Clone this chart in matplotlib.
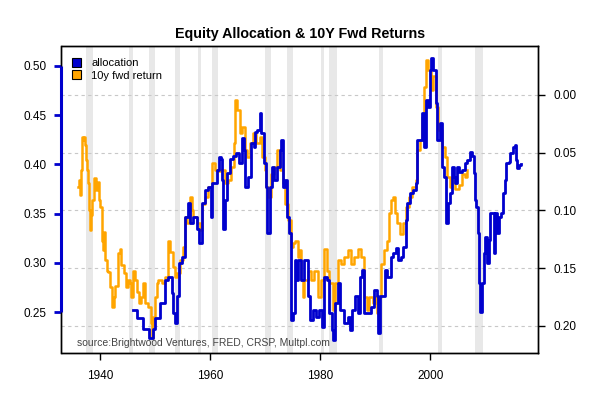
import matplotlib
matplotlib.use('Agg')
import matplotlib.pyplot as plt
from matplotlib.patches import Patch

plt.rcParams['font.family'] = ['Liberation Sans', 'DejaVu Sans']

# equity allocation (left axis)
alloc_years = [1945.95, 1946.5, 1946.65, 1947.2, 1947.75, 1948.65, 1948.85, 1949.4, 1949.6, 1949.95,
               1950.85, 1951.4, 1951.8, 1952.3, 1953.0, 1953.2, 1953.6, 1953.95, 1954.3, 1954.85,
               1955.4, 1955.95, 1956.3, 1956.85, 1957.6, 1957.95, 1958.5, 1959.0, 1959.6, 1960.15,
               1960.3, 1960.7, 1961.2, 1961.6, 1961.95, 1962.1, 1962.3, 1962.7, 1963.05, 1963.6,
               1964.1, 1964.7, 1965.2, 1965.8, 1966.1, 1966.3, 1966.85, 1967.4, 1967.95, 1968.1,
               1968.5, 1969.0, 1969.2, 1969.75, 1970.1, 1970.3, 1970.85, 1971.2, 1971.6, 1972.1,
               1972.7, 1972.85, 1973.2, 1973.6, 1973.95, 1974.3, 1974.7, 1975.0, 1975.4, 1975.6,
               1975.95, 1976.5, 1977.0, 1977.75, 1978.1, 1978.65, 1979.2, 1979.8, 1980.3, 1980.7,
               1981.2, 1981.6, 1982.1, 1982.3, 1982.7, 1983.2, 1983.6, 1984.3, 1985.0, 1985.4,
               1985.75, 1986.3, 1986.85, 1987.2, 1987.6, 1987.95, 1988.7, 1989.25, 1989.8, 1990.3,
               1990.5, 1990.9, 1991.4, 1991.8, 1992.1, 1992.85, 1993.2, 1993.75, 1994.1, 1994.7,
               1995.0, 1995.6, 1995.8, 1996.3, 1996.85, 1997.4, 1997.55, 1998.1, 1998.5, 1998.85,
               1999.2, 1999.6, 1999.95, 2000.1, 2000.5, 2001.0, 2001.2, 2001.75, 2002.1, 2002.45,
               2002.85, 2003.2, 2003.6, 2003.95, 2004.3, 2004.5, 2004.85, 2005.2, 2005.75, 2006.3,
               2006.7, 2007.2, 2007.6, 2007.95, 2008.1, 2008.3, 2008.65, 2008.85, 2009.0, 2009.4,
               2009.75, 2009.95, 2010.3, 2010.65, 2010.85, 2011.2, 2011.6, 2011.75, 2012.1, 2012.5,
               2012.85, 2013.2, 2013.6, 2013.75, 2014.3, 2014.5, 2015.05, 2015.4, 2015.6, 2015.8,
               2016.15, 2016.5]
alloc = [0.252, 0.252, 0.244, 0.244, 0.233, 0.233, 0.224, 0.224, 0.233, 0.244,
         0.259, 0.259, 0.283, 0.286, 0.270, 0.249, 0.239, 0.266, 0.300, 0.306,
         0.347, 0.361, 0.341, 0.347, 0.334, 0.320, 0.361, 0.374, 0.377, 0.347,
         0.381, 0.381, 0.394, 0.407, 0.405, 0.384, 0.334, 0.364, 0.391, 0.405,
         0.408, 0.412, 0.401, 0.427, 0.415, 0.377, 0.387, 0.422, 0.418, 0.433,
         0.435, 0.452, 0.432, 0.401, 0.377, 0.330, 0.377, 0.397, 0.384, 0.397,
         0.415, 0.425, 0.377, 0.384, 0.347, 0.330, 0.242, 0.249, 0.303, 0.283,
         0.303, 0.283, 0.303, 0.266, 0.242, 0.252, 0.245, 0.252, 0.235, 0.286,
         0.283, 0.249, 0.232, 0.222, 0.259, 0.280, 0.252, 0.239, 0.245, 0.232,
         0.252, 0.266, 0.249, 0.286, 0.293, 0.249, 0.249, 0.255, 0.273, 0.266,
         0.229, 0.266, 0.266, 0.293, 0.286, 0.306, 0.310, 0.315, 0.303, 0.306,
         0.316, 0.344, 0.361, 0.371, 0.374, 0.381, 0.425, 0.425, 0.452, 0.418,
         0.465, 0.458, 0.496, 0.508, 0.496, 0.462, 0.425, 0.442, 0.397, 0.387,
         0.341, 0.361, 0.371, 0.397, 0.387, 0.381, 0.397, 0.392, 0.394, 0.401,
         0.404, 0.413, 0.408, 0.391, 0.364, 0.357, 0.330, 0.280, 0.250, 0.280,
         0.310, 0.326, 0.300, 0.323, 0.351, 0.351, 0.310, 0.351, 0.330, 0.347,
         0.351, 0.371, 0.384, 0.401, 0.402, 0.412, 0.418, 0.420, 0.404, 0.396,
         0.399, 0.400]

# 10y forward return (right axis, inverted)
ret_years = [1935.95, 1936.1, 1936.3, 1936.5, 1936.7, 1936.85, 1937.0, 1937.2, 1937.4, 1937.6,
             1937.8, 1937.95, 1938.1, 1938.3, 1938.5, 1938.85, 1939.2, 1939.6, 1939.8, 1939.95,
             1940.3, 1940.5, 1940.7, 1940.85, 1941.2, 1941.4, 1941.8, 1942.1, 1942.5, 1942.7,
             1943.2, 1943.6, 1943.8, 1944.3, 1944.7, 1945.0, 1945.4, 1945.6, 1945.9, 1946.3,
             1946.7, 1947.0, 1947.4, 1947.8, 1948.1, 1948.7, 1949.2, 1949.4, 1949.6, 1949.95,
             1950.3, 1950.5, 1951.2, 1951.8, 1952.3, 1952.7, 1953.2, 1953.6, 1953.95, 1954.5,
             1955.0, 1955.4, 1955.8, 1956.3, 1956.7, 1956.85, 1957.6, 1958.1, 1958.5, 1959.0,
             1959.6, 1960.3, 1960.85, 1961.4, 1961.95, 1962.7, 1963.2, 1963.75, 1964.3, 1964.5,
             1964.85, 1965.4, 1965.8, 1966.3, 1966.7, 1967.2, 1967.8, 1968.3, 1969.0, 1969.4,
             1969.95, 1970.1, 1970.5, 1971.0, 1971.6, 1972.1, 1972.7, 1973.2, 1973.6, 1974.1,
             1974.7, 1975.0, 1975.4, 1975.95, 1976.1, 1976.5, 1976.85, 1977.0, 1977.75, 1978.3,
             1978.85, 1979.6, 1980.1, 1980.7, 1981.2, 1981.6, 1982.3, 1982.7, 1983.2, 1983.8,
             1984.3, 1985.0, 1985.6, 1986.1, 1986.85, 1987.4, 1987.95, 1988.5, 1988.85, 1989.6,
             1989.95, 1990.3, 1990.7, 1991.0, 1991.6, 1992.1, 1992.5, 1992.85, 1993.2, 1993.6,
             1993.95, 1994.5, 1995.0, 1995.6, 1996.1, 1996.65, 1997.4, 1997.55, 1998.1, 1998.5,
             1998.85, 1999.2, 1999.6, 2000.1, 2000.5, 2001.0, 2001.4, 2001.95, 2002.1, 2002.65,
             2003.0, 2003.6, 2003.95, 2004.5, 2005.2, 2005.75, 2006.3, 2006.7]
ret = [0.080, 0.074, 0.087, 0.065, 0.036, 0.039, 0.036, 0.043, 0.056, 0.065,
       0.076, 0.100, 0.117, 0.104, 0.091, 0.072, 0.082, 0.075, 0.091, 0.097,
       0.126, 0.134, 0.119, 0.143, 0.152, 0.153, 0.166, 0.184, 0.175, 0.165,
       0.137, 0.133, 0.147, 0.154, 0.166, 0.160, 0.163, 0.175, 0.152, 0.160,
       0.171, 0.180, 0.175, 0.163, 0.180, 0.184, 0.197, 0.210, 0.192, 0.175,
       0.163, 0.160, 0.163, 0.158, 0.126, 0.136, 0.149, 0.158, 0.154, 0.143,
       0.132, 0.106, 0.111, 0.088, 0.100, 0.106, 0.111, 0.117, 0.094, 0.088,
       0.080, 0.059, 0.065, 0.066, 0.065, 0.076, 0.074, 0.062, 0.042, 0.004,
       0.013, 0.033, 0.028, 0.048, 0.054, 0.042, 0.033, 0.042, 0.036, 0.054,
       0.065, 0.080, 0.088, 0.068, 0.062, 0.048, 0.065, 0.076, 0.094, 0.108,
       0.132, 0.128, 0.126, 0.140, 0.134, 0.160, 0.175, 0.160, 0.152, 0.160,
       0.152, 0.175, 0.160, 0.133, 0.152, 0.163, 0.186, 0.163, 0.143, 0.146,
       0.140, 0.134, 0.146, 0.140, 0.133, 0.140, 0.175, 0.186, 0.175, 0.180,
       0.175, 0.189, 0.175, 0.146, 0.134, 0.126, 0.102, 0.091, 0.088, 0.102,
       0.111, 0.120, 0.111, 0.097, 0.088, 0.080, 0.074, 0.048, 0.039, 0.019,
       -0.007, -0.030, -0.022, -0.004, -0.016, 0.010, 0.030, 0.030, 0.045, 0.054,
       0.071, 0.080, 0.071, 0.081, 0.078, 0.068, 0.071, 0.065]

# recession periods
rec_start = [1937.4, 1945.2, 1948.9, 1953.6, 1957.8, 1960.4, 1969.95, 1973.95, 1980.15, 1981.6,
             1990.67, 2001.45, 2008.25]
rec_end = [1938.6, 1945.9, 1949.95, 1954.5, 1958.4, 1961.35, 1971.0, 1975.1, 1980.75, 1982.98,
           1991.35, 2002.07, 2009.7]

left_ticks = [0.25, 0.30, 0.35, 0.40, 0.45, 0.50]
right_ticks = [0.00, 0.05, 0.10, 0.15, 0.20]
year_ticks = [1940, 1960, 1980, 2000]

blue = '#0000CD'
orange = '#FFA500'

fig = plt.figure(figsize=(6, 4), dpi=100)
ax = fig.add_axes([0.1025, 0.1175, 0.794, 0.7675])
ax2 = ax.twinx()
ax.set_zorder(ax2.get_zorder() + 1)
ax.patch.set_visible(False)

# background: bands + grid on the right axis
for s, e in zip(rec_start, rec_end):
    ax2.axvspan(s, e, color='#e8e8e8', lw=0, zorder=0)
for t in right_ticks:
    ax2.axhline(t, color='#c8c8c8', lw=0.8, ls=(0, (3, 3)), zorder=1)

ax2.plot(ret_years, ret, color=orange, lw=1.8, drawstyle='steps-post', zorder=2)
ax.plot(alloc_years, alloc, color=blue, lw=2.0, drawstyle='steps-post', zorder=3)

ax.set_xlim(1932.95, 2019.6)
ax.set_ylim(0.2087, 0.52)
ax2.set_ylim(0.2234, -0.0424)

ax.set_xticks(year_ticks)
ax.set_xticklabels([str(y) for y in year_ticks])
ax.set_yticks(left_ticks)
ax.set_yticklabels(['%.2f' % t for t in left_ticks])
ax2.set_yticks(right_ticks)
ax2.set_yticklabels(['%.2f' % t for t in right_ticks])

ax.tick_params(axis='x', direction='out', length=5, width=1, labelsize=8.5, pad=7)
ax.tick_params(axis='y', direction='out', length=5, width=2, color=blue, labelsize=8.5, pad=6)
ax2.tick_params(axis='y', direction='out', length=5, width=1, labelsize=8.5, pad=6)

# blue axis line on the left spanning tick range
ax.plot([0, 0], [left_ticks[0], left_ticks[-1]], color=blue, lw=2.2,
        transform=ax.get_yaxis_transform(), clip_on=False, zorder=5, solid_capstyle='butt')

for a in (ax, ax2):
    for sp in a.spines.values():
        sp.set_linewidth(1)
        sp.set_color('black')

handles = [Patch(facecolor=blue, edgecolor='black', lw=0.8),
           Patch(facecolor=orange, edgecolor='black', lw=0.8)]
ax.legend(handles, ['allocation', '10y fwd return'], loc='upper left', frameon=False,
          fontsize=8, handlelength=0.8, handleheight=0.8, handletextpad=0.9,
          labelspacing=0.2, borderaxespad=0.0, bbox_to_anchor=(0.013, 0.975))

ax.text(0.032, 0.033, 'source:Brightwood Ventures, FRED, CRSP, Multpl.com', transform=ax.transAxes,
        fontsize=7.5, color='#444444', va='center', ha='left')

fig.text(0.5, 0.914, 'Equity Allocation & 10Y Fwd Returns', ha='center', va='center',
         fontsize=10.3, fontweight='bold')

fig.savefig('out.png', dpi=100)
